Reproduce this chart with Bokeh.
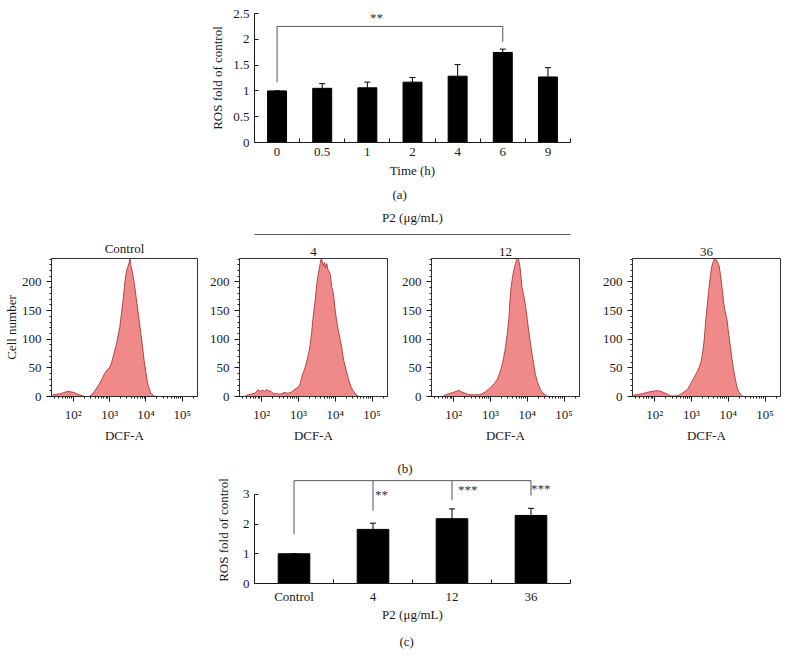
import numpy as np
from bokeh.plotting import figure
from bokeh.layouts import column, row
from bokeh.models import (Range1d, FixedTicker, ColumnDataSource, Whisker, TeeHead, Title)
from bokeh.embed import file_html
from bokeh.resources import INLINE
from bokeh.core.properties import value

FONT = "Liberation Serif"
INK = "#1a1a1a"
GRAY = "#555555"
FILL = "#F08A8A"
EDGE = "#A8383A"

# ---------------- data: panel (a) ----------------
time_labels = ["0", "0.5", "1", "2", "4", "6", "9"]
time_means = [1.00, 1.05, 1.06, 1.17, 1.285, 1.745, 1.27]
time_err = [0.0, 0.09, 0.11, 0.09, 0.225, 0.065, 0.18]
a_bracket_from = 0          # index of "0"
a_bracket_to = 5            # index of "6"
a_bracket_top = 2.25
a_bracket_ends = [1.17, 1.95]
a_sig_text = ["**"]
a_sig_x = [2.2]
a_sig_y = [2.42]

# ---------------- data: panel (b) histograms (x = log10 DCF-A, y = cell count) ----------------
ctrl_logx = [1.42, 1.45, 1.55, 1.65, 1.75, 1.84, 1.94, 2.03, 2.12, 2.21, 2.31, 2.45, 2.50, 2.58,
             2.65, 2.72, 2.80, 2.86, 2.93, 3.00, 3.05, 3.10, 3.19, 3.28, 3.37, 3.43, 3.47, 3.51,
             3.54, 3.56, 3.58, 3.62, 3.66, 3.70, 3.74, 3.80, 3.86, 3.91, 3.95, 4.00, 4.05, 4.10,
             4.14, 4.20, 4.25]
ctrl_count = [0, 3, 4, 5, 7, 9, 8, 7, 4, 2, 0, 0, 3, 9,
              15, 22, 32, 40, 46, 51, 58, 70, 92, 121, 168, 205, 220, 228,
              234, 241, 230, 220, 205, 188, 168, 140, 110, 85, 63, 42, 22, 12,
              5, 2, 0]

p4_logx = [1.55, 1.62, 1.72, 1.82, 1.92, 1.97, 2.02, 2.08, 2.13, 2.20, 2.27, 2.33, 2.40, 2.47,
           2.55, 2.61, 2.68, 2.75, 2.82, 2.89, 2.96, 3.03, 3.08, 3.12, 3.17, 3.21, 3.26, 3.31,
           3.36, 3.40, 3.45, 3.49, 3.53, 3.56, 3.59, 3.62, 3.65, 3.68, 3.71, 3.74, 3.77, 3.80,
           3.86, 3.91, 3.95, 4.00, 4.05, 4.10, 4.14, 4.19, 4.23, 4.30, 4.37, 4.44, 4.51, 4.57,
           4.63]
p4_count = [0, 3, 4, 6, 12, 9, 11, 9, 12, 10, 8, 5, 5, 4,
            5, 7, 6, 6, 8, 12, 15, 19, 30, 40, 48, 57, 70, 86,
            112, 139, 165, 191, 210, 220, 232, 241, 236, 228, 234, 225, 232, 222,
            215, 190, 180, 150, 127, 110, 98, 80, 63, 45, 28, 15, 8, 3,
            0]

p12_logx = [1.71, 1.78, 1.88, 1.98, 2.08, 2.15, 2.22, 2.30, 2.38, 2.47, 2.58, 2.70, 2.78, 2.86,
            2.95, 3.01, 3.10, 3.19, 3.25, 3.30, 3.36, 3.41, 3.46, 3.50, 3.53, 3.56, 3.60, 3.64,
            3.68, 3.71, 3.74, 3.77, 3.80, 3.83, 3.86, 3.90, 3.95, 4.00, 4.04, 4.09, 4.13, 4.18,
            4.22, 4.28, 4.35, 4.42, 4.49, 4.55]
p12_count = [0, 3, 5, 7, 9, 11, 8, 6, 4, 3, 3, 3, 5, 8,
             13, 16, 22, 30, 40, 50, 68, 86, 110, 135, 165, 190, 208, 222,
             232, 238, 241, 238, 228, 210, 190, 178, 160, 135, 115, 92, 74, 55,
             39, 25, 13, 6, 3, 0]

p36_logx = [1.41, 1.50, 1.60, 1.68, 1.78, 1.86, 1.95, 2.04, 2.10, 2.17, 2.24, 2.31, 2.38, 2.44,
            2.51, 2.58, 2.65, 2.71, 2.78, 2.85, 2.92, 2.98, 3.05, 3.12, 3.17, 3.21, 3.26, 3.30,
            3.35, 3.39, 3.44, 3.48, 3.52, 3.55, 3.58, 3.61, 3.65, 3.68, 3.72, 3.75, 3.79, 3.82,
            3.85, 3.88, 3.92, 3.97, 4.01, 4.06, 4.10, 4.15, 4.20, 4.24, 4.28, 4.33, 4.38, 4.42]
p36_count = [2, 3, 4, 5, 7, 8, 9, 10, 10, 9, 7, 5, 3, 1,
             1, 1, 2, 4, 7, 10, 15, 22, 30, 39, 45, 51, 60, 74,
             100, 133, 165, 191, 212, 226, 233, 238, 241, 238, 233, 229, 212, 197,
             180, 162, 148, 133, 110, 86, 66, 45, 28, 16, 9, 4, 1, 0]

hist_titles = ["Control", "4", "12", "36"]
dose_header = "P2 (μg/mL)"

# ---------------- data: panel (c) ----------------
dose_labels = ["Control", "4", "12", "36"]
dose_means = [1.00, 1.82, 2.18, 2.29]
dose_err = [0.0, 0.21, 0.33, 0.24]
c_bracket_top = 3.46
c_bracket_ends = [1.65, 2.45, 2.80, 2.96]
c_sig_text = ["**", "***", "***"]
c_sig_x = [1, 2, 3]
c_sig_y = [3.0, 3.15, 3.18]


def style_axis(ax, size="13px"):
    ax.axis_line_color = INK
    ax.axis_line_width = 1
    ax.major_tick_line_color = INK
    ax.minor_tick_line_color = INK
    ax.major_label_text_font = FONT
    ax.major_label_text_font_size = size
    ax.major_label_text_color = INK
    ax.axis_label_text_font = FONT
    ax.axis_label_text_font_size = size
    ax.axis_label_text_font_style = "normal"
    ax.axis_label_text_color = INK


def bar_panel(labels, means, errs, width, height, borders, yr, yticks, ylabels, xlabel, bar_w):
    bl, br, bt, bb = borders
    n = len(labels)
    p = figure(width=width, height=height, x_range=Range1d(-0.5, n - 0.5), y_range=yr,
               output_backend="svg", toolbar_location=None,
               min_border_left=bl, min_border_right=br, min_border_top=bt, min_border_bottom=bb)
    p.outline_line_color = None
    p.xgrid.visible = False
    p.ygrid.visible = False
    idx = list(range(n))
    tops = [m + e for m, e in zip(means, errs)]
    src = ColumnDataSource(dict(x=idx, m=means, up=tops))
    p.vbar(x="x", top="m", width=bar_w, source=src, fill_color="black", line_color="black")
    p.add_layout(Whisker(base="x", lower="m", upper="up", source=src, dimension="height",
                         lower_head=None, upper_head=TeeHead(size=6, line_color="black", line_width=1),
                         line_color="black", line_width=1))
    style_axis(p.xaxis[0])
    style_axis(p.yaxis[0])
    p.xaxis.ticker = FixedTicker(ticks=idx, minor_ticks=[i - 0.5 for i in range(n + 1)])
    p.xaxis.major_label_overrides = {i: lab for i, lab in zip(idx, labels)}
    p.xaxis.major_tick_in = 0
    p.xaxis.major_tick_out = 0
    p.xaxis.minor_tick_in = 4
    p.xaxis.minor_tick_out = 0
    p.xaxis.major_label_standoff = 5
    p.xaxis.axis_label_standoff = 4
    p.xaxis.axis_label = xlabel
    p.yaxis.ticker = FixedTicker(ticks=yticks, minor_ticks=[])
    p.yaxis.major_label_overrides = {t: s for t, s in zip(yticks, ylabels)}
    p.yaxis.major_tick_in = 4
    p.yaxis.major_tick_out = 0
    p.yaxis.minor_tick_line_color = None
    p.yaxis.axis_label = "ROS fold of control"
    return p


# ---------------- panel (a) ----------------
fig_a = bar_panel(time_labels, time_means, time_err, 781, 206, (245, 206, 13, 64),
                  Range1d(0, 2.5), [0, 0.5, 1, 1.5, 2, 2.5], ["0", "0.5", "1", "1.5", "2", "2.5"],
                  "Time (h)", 0.42)
fig_a.yaxis.axis_label_standoff = 5
fig_a.line(x=[a_bracket_from, a_bracket_from, a_bracket_to, a_bracket_to],
           y=[a_bracket_ends[0], a_bracket_top, a_bracket_top, a_bracket_ends[1]],
           line_color=GRAY, line_width=1)
fig_a.text(x=a_sig_x, y=a_sig_y, text=a_sig_text, text_font=value(FONT), text_font_size="13px",
           text_align="center", text_baseline="middle", text_color="#333333")
fig_a.add_layout(Title(text="(a)", align="left", offset=138, text_font=FONT, text_font_size="13px",
                       text_font_style="normal", text_color=INK, standoff=9), "below")

# ---------------- header over dose histograms ----------------
hdr = figure(width=781, height=30, x_range=Range1d(0, 1), y_range=Range1d(0, 1),
             x_axis_location="above", y_axis_location=None,
             output_backend="svg", toolbar_location=None,
             min_border_left=254, min_border_right=57, min_border_top=26, min_border_bottom=0)
hdr.outline_line_color = None
hdr.xgrid.visible = False
hdr.ygrid.visible = False
style_axis(hdr.xaxis[0])
hdr.xaxis.ticker = FixedTicker(ticks=[], minor_ticks=[])
hdr.xaxis.major_tick_line_color = None
hdr.xaxis.minor_tick_line_color = None
hdr.xaxis.axis_line_color = GRAY
hdr.xaxis.axis_label = dose_header
hdr.xaxis.axis_label_standoff = 10

# ---------------- histograms ----------------
x_minor = [float(np.log10(k * 10.0 ** e)) for e in range(1, 6) for k in range(2, 10)]
x_minor = [v for v in x_minor if 1.4 <= v <= 5.42]


def make_hist(title, lx, cnt, width, bl, br, ylabel=None):
    p = figure(width=width, height=219, x_range=Range1d(1.4, 5.42), y_range=Range1d(0, 241),
               output_backend="svg", toolbar_location=None,
               min_border_left=bl, min_border_right=br, min_border_top=22, min_border_bottom=59)
    p.title = Title(text=title, align="center", text_font=FONT,
                    text_font_size="13px", text_font_style="normal", text_color=INK, standoff=5)
    p.outline_line_color = "#333333"
    p.xgrid.visible = False
    p.ygrid.visible = False
    p.varea(x=lx, y1=0, y2=cnt, fill_color=FILL, fill_alpha=1)
    p.line(x=lx, y=cnt, line_color=EDGE, line_width=0.9)
    for ax in (p.xaxis[0], p.yaxis[0]):
        style_axis(ax)
        ax.axis_line_color = "#333333"
        ax.major_tick_in = 0
        ax.major_tick_out = 5
        ax.minor_tick_in = 0
        ax.minor_tick_out = 2
    p.xaxis.ticker = FixedTicker(ticks=[2, 3, 4, 5], minor_ticks=x_minor)
    p.xaxis.major_label_overrides = {2: "10²", 3: "10³", 4: "10⁴", 5: "10⁵"}
    p.xaxis.axis_label = "DCF-A"
    p.xaxis.axis_label_standoff = 3
    p.yaxis.ticker = FixedTicker(ticks=[0, 50, 100, 150, 200], minor_ticks=list(range(0, 241, 10)))
    if ylabel:
        p.yaxis.axis_label = ylabel
        p.yaxis.axis_label_standoff = 0
    return p


h1 = make_hist(hist_titles[0], ctrl_logx, ctrl_count, 204, 49, 7, "Cell number")
h2 = make_hist(hist_titles[1], p4_logx, p4_count, 193, 35, 10)
h3 = make_hist(hist_titles[2], p12_logx, p12_count, 192, 34, 10)
h4 = make_hist(hist_titles[3], p36_logx, p36_count, 192, 43, 1)

# ---------------- panel (c) ----------------
fig_c = bar_panel(dose_labels, dose_means, dose_err, 781, 200, (240, 211, 21, 70),
                  Range1d(0, 3.6), [0, 1, 2, 3], ["0", "1", "2", "3"], dose_header, 0.40)
fig_c.yaxis.bounds = (0, 3)
fig_c.yaxis.axis_label_standoff = 9
fig_c.xaxis.axis_label_standoff = 0
n_c = len(dose_labels)
fig_c.segment(x0=[0], y0=[c_bracket_top], x1=[n_c - 1], y1=[c_bracket_top], line_color=GRAY, line_width=1)
fig_c.segment(x0=list(range(n_c)), y0=c_bracket_ends, x1=list(range(n_c)), y1=[c_bracket_top] * n_c,
              line_color=GRAY, line_width=1)
fig_c.text(x=c_sig_x, y=c_sig_y, text=c_sig_text, text_font=value(FONT), text_font_size="13px",
           text_align="left", text_baseline="middle", text_color="#333333", x_offset=[2, 6, 0])
fig_c.title = Title(text="(b)", align="left", offset=143, text_font=FONT, text_font_size="13px",
                    text_font_style="normal", text_color=INK, standoff=2)
fig_c.add_layout(Title(text="(c)", align="left", offset=145, text_font=FONT, text_font_size="13px",
                       text_font_style="normal", text_color=INK, standoff=14), "below")

layout = column(fig_a, hdr, row(h1, h2, h3, h4), fig_c)

with open("out.html", "w") as f:
    f.write(file_html(layout, INLINE))
